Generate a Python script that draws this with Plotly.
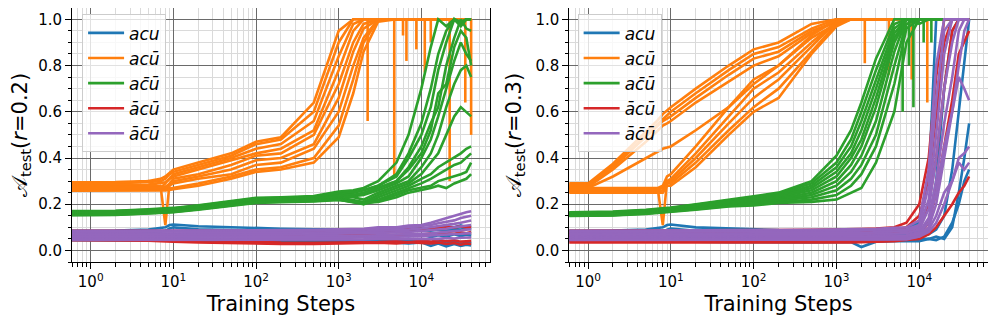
import plotly.graph_objects as go

# training steps shared by every run (log x axis)
steps = [0.5, 1, 2, 5, 7, 8, 9, 10, 20, 50, 100, 200, 500, 1000, 1500, 2000, 3000,
         5000, 7000, 10000, 13000, 16000, 20000, 25000, 30000, 35000, 40000]

tick_vals = [1, 10, 100, 1000, 10000]
tick_text = ["10<sup>0</sup>", "10<sup>1</sup>", "10<sup>2</sup>", "10<sup>3</sup>", "10<sup>4</sup>"]

labels = ["<i>acu</i>", "<i>ac\u016b</i>", "<i>ac\u0304\u016b</i>", "<i>\u0101c\u016b</i>", "<i>\u0101c\u0304\u016b</i>"]
colors = ["#1f77b4", "#ff7f0e", "#2ca02c", "#d62728", "#9467bd"]

# ---------------- r = 0.2 ----------------
r02_acu = [
    [0.085, 0.085, 0.086, 0.090, 0.095, 0.100, 0.110, 0.112, 0.105, 0.100, 0.096, 0.094, 0.092, 0.090, 0.090, 0.088, 0.090, 0.092, 0.094, 0.096, 0.100, 0.098, 0.104, 0.100, 0.108, 0.100, 0.105],
    [0.078, 0.078, 0.079, 0.080, 0.082, 0.085, 0.095, 0.100, 0.092, 0.088, 0.085, 0.084, 0.083, 0.082, 0.080, 0.082, 0.084, 0.083, 0.086, 0.088, 0.085, 0.090, 0.088, 0.092, 0.090, 0.095, 0.092],
    [0.065, 0.065, 0.065, 0.066, 0.066, 0.067, 0.068, 0.068, 0.067, 0.066, 0.065, 0.065, 0.064, 0.064, 0.062, 0.066, 0.060, 0.068, 0.062, 0.070, 0.058, 0.066, 0.060, 0.070, 0.062, 0.068, 0.064],
    [0.055, 0.055, 0.054, 0.053, 0.053, 0.052, 0.052, 0.052, 0.050, 0.048, 0.047, 0.046, 0.046, 0.045, 0.044, 0.046, 0.042, 0.045, 0.040, 0.044, 0.035, 0.040, 0.030, 0.038, 0.028, 0.035, 0.030],
    [0.045, 0.045, 0.044, 0.043, 0.042, 0.042, 0.042, 0.041, 0.040, 0.040, 0.039, 0.039, 0.038, 0.038, 0.037, 0.036, 0.038, 0.034, 0.030, 0.035, 0.020, 0.030, 0.018, 0.028, 0.020, 0.025, 0.022],
]
r02_acub = [
    [0.295, 0.295, 0.296, 0.300, 0.310, 0.320, 0.335, 0.350, 0.380, 0.420, 0.470, 0.490, 0.640, 0.950, 1.000, 1.000, 1.000, 1.000, 1.000, 1.000, 1.000, 1.000, 1.000, 1.000, 1.000, 1.000, 1.000],
    [0.290, 0.290, 0.292, 0.296, 0.300, 0.310, 0.330, 0.340, 0.370, 0.410, 0.460, 0.480, 0.600, 0.900, 1.000, 1.000, 1.000, 1.000, 1.000, 1.000, 1.000, 1.000, 1.000, 1.000, 1.000, 1.000, 1.000],
    [0.285, 0.285, 0.288, 0.300, 0.270, 0.290, 0.310, 0.330, 0.360, 0.400, 0.440, 0.460, 0.560, 0.840, 0.980, 1.000, 1.000, 1.000, 1.000, 1.000, 1.000, 1.000, 1.000, 1.000, 1.000, 1.000, 1.000],
    [0.280, 0.280, 0.282, 0.285, 0.290, 0.295, 0.310, 0.320, 0.350, 0.390, 0.420, 0.440, 0.520, 0.780, 0.950, 1.000, 1.000, 1.000, 1.000, 1.000, 1.000, 1.000, 1.000, 1.000, 1.000, 1.000, 1.000],
    [0.275, 0.275, 0.276, 0.278, 0.280, 0.110, 0.290, 0.310, 0.330, 0.370, 0.410, 0.420, 0.500, 0.720, 0.900, 0.980, 1.000, 1.000, 1.000, 1.000, 1.000, 1.000, 1.000, 1.000, 1.000, 1.000, 1.000],
    [0.270, 0.270, 0.271, 0.272, 0.273, 0.275, 0.290, 0.300, 0.320, 0.350, 0.390, 0.400, 0.460, 0.660, 0.860, 0.960, 1.000, 1.000, 1.000, 1.000, 1.000, 1.000, 1.000, 1.000, 1.000, 1.000, 1.000],
    [0.265, 0.265, 0.266, 0.267, 0.268, 0.270, 0.280, 0.290, 0.310, 0.330, 0.370, 0.380, 0.440, 0.600, 0.800, 0.920, 1.000, 1.000, 1.000, 1.000, 1.000, 1.000, 1.000, 1.000, 1.000, 1.000, 1.000],
    [0.260, 0.260, 0.261, 0.262, 0.263, 0.265, 0.268, 0.270, 0.290, 0.320, 0.350, 0.360, 0.400, 0.540, 0.740, 0.900, 1.000, 1.000, 1.000, 1.000, 1.000, 1.000, 1.000, 1.000, 1.000, 1.000, 1.000],
    [0.258, 0.258, 0.258, 0.258, 0.258, 0.260, 0.262, 0.265, 0.280, 0.310, 0.340, 0.350, 0.380, 0.490, 0.680, 0.860, 0.990, 1.000, 1.000, 1.000, 1.000, 1.000, 1.000, 1.000, 1.000, 1.000, 1.000],
]
r02_acub_dip_x = [2240, 4700, 6000, 6600, 8700, 11000, 13000, 22000, 34000, 40000]
r02_acub_dip_y = [0.56, 0.32, 0.93, 0.82, 0.87, 0.77, 0.90, 0.30, 0.64, 0.50]
r02_acbub = [
    [0.170, 0.170, 0.172, 0.178, 0.181, 0.182, 0.183, 0.184, 0.195, 0.213, 0.228, 0.230, 0.235, 0.255, 0.260, 0.270, 0.300, 0.380, 0.500, 0.700, 0.880, 1.000, 0.970, 1.000, 0.990, 1.000, 1.000],
    [0.168, 0.168, 0.170, 0.176, 0.179, 0.180, 0.181, 0.182, 0.193, 0.211, 0.225, 0.228, 0.232, 0.250, 0.250, 0.260, 0.280, 0.330, 0.420, 0.550, 0.700, 0.850, 0.950, 1.000, 0.980, 1.000, 1.000],
    [0.166, 0.166, 0.168, 0.174, 0.177, 0.178, 0.179, 0.180, 0.191, 0.209, 0.223, 0.226, 0.230, 0.240, 0.250, 0.260, 0.280, 0.320, 0.400, 0.500, 0.620, 0.780, 0.900, 1.000, 0.970, 1.000, 1.000],
    [0.165, 0.165, 0.167, 0.173, 0.176, 0.177, 0.178, 0.179, 0.190, 0.208, 0.222, 0.225, 0.228, 0.245, 0.240, 0.250, 0.270, 0.300, 0.360, 0.450, 0.550, 0.620, 0.800, 0.920, 1.000, 0.960, 0.950],
    [0.163, 0.163, 0.165, 0.171, 0.174, 0.175, 0.176, 0.177, 0.188, 0.205, 0.220, 0.222, 0.225, 0.240, 0.235, 0.240, 0.260, 0.290, 0.320, 0.400, 0.480, 0.580, 0.700, 0.820, 0.900, 0.850, 0.820],
    [0.162, 0.162, 0.164, 0.170, 0.173, 0.174, 0.175, 0.176, 0.187, 0.204, 0.218, 0.221, 0.224, 0.235, 0.240, 0.245, 0.270, 0.300, 0.350, 0.420, 0.520, 0.680, 0.720, 0.880, 0.950, 0.920, 0.800],
    [0.161, 0.161, 0.163, 0.169, 0.172, 0.173, 0.174, 0.175, 0.186, 0.203, 0.217, 0.220, 0.222, 0.235, 0.230, 0.220, 0.250, 0.280, 0.300, 0.360, 0.420, 0.500, 0.620, 0.720, 0.780, 0.800, 0.750],
    [0.159, 0.159, 0.161, 0.167, 0.170, 0.171, 0.172, 0.173, 0.184, 0.200, 0.215, 0.217, 0.220, 0.230, 0.220, 0.210, 0.240, 0.270, 0.290, 0.330, 0.380, 0.420, 0.500, 0.580, 0.620, 0.600, 0.580],
    [0.157, 0.157, 0.159, 0.165, 0.168, 0.169, 0.170, 0.171, 0.182, 0.198, 0.212, 0.215, 0.218, 0.225, 0.215, 0.200, 0.230, 0.260, 0.280, 0.310, 0.330, 0.360, 0.380, 0.400, 0.420, 0.440, 0.450],
    [0.155, 0.155, 0.157, 0.163, 0.166, 0.167, 0.168, 0.169, 0.180, 0.196, 0.210, 0.213, 0.216, 0.222, 0.210, 0.205, 0.220, 0.250, 0.270, 0.290, 0.310, 0.330, 0.350, 0.370, 0.380, 0.400, 0.420],
    [0.153, 0.153, 0.155, 0.161, 0.164, 0.165, 0.166, 0.167, 0.178, 0.194, 0.208, 0.211, 0.214, 0.220, 0.210, 0.200, 0.215, 0.240, 0.260, 0.270, 0.280, 0.300, 0.310, 0.320, 0.330, 0.340, 0.380],
    [0.152, 0.152, 0.154, 0.160, 0.163, 0.164, 0.165, 0.166, 0.176, 0.192, 0.206, 0.209, 0.212, 0.218, 0.210, 0.205, 0.210, 0.230, 0.250, 0.260, 0.270, 0.280, 0.270, 0.290, 0.300, 0.310, 0.330],
]
r02_abcub = [
    [0.085, 0.085, 0.085, 0.084, 0.084, 0.084, 0.083, 0.083, 0.082, 0.082, 0.082, 0.082, 0.082, 0.082, 0.083, 0.084, 0.085, 0.088, 0.090, 0.092, 0.095, 0.098, 0.100, 0.100, 0.104, 0.100, 0.102],
    [0.070, 0.070, 0.070, 0.069, 0.069, 0.068, 0.068, 0.068, 0.067, 0.066, 0.065, 0.064, 0.064, 0.065, 0.066, 0.068, 0.070, 0.066, 0.072, 0.068, 0.074, 0.070, 0.075, 0.072, 0.078, 0.074, 0.080],
    [0.055, 0.055, 0.054, 0.052, 0.050, 0.050, 0.049, 0.048, 0.045, 0.040, 0.036, 0.034, 0.033, 0.033, 0.034, 0.035, 0.036, 0.040, 0.035, 0.042, 0.038, 0.045, 0.040, 0.044, 0.038, 0.040, 0.042],
    [0.045, 0.045, 0.044, 0.042, 0.040, 0.040, 0.039, 0.038, 0.035, 0.032, 0.030, 0.028, 0.028, 0.030, 0.032, 0.033, 0.034, 0.030, 0.036, 0.032, 0.030, 0.034, 0.028, 0.032, 0.025, 0.030, 0.028],
]
r02_abcbub = [
    [0.085, 0.085, 0.085, 0.085, 0.085, 0.085, 0.086, 0.086, 0.087, 0.088, 0.088, 0.088, 0.089, 0.090, 0.092, 0.094, 0.100, 0.100, 0.108, 0.110, 0.120, 0.130, 0.140, 0.150, 0.158, 0.165, 0.170],
    [0.080, 0.080, 0.080, 0.080, 0.080, 0.080, 0.080, 0.080, 0.081, 0.082, 0.083, 0.084, 0.085, 0.086, 0.088, 0.090, 0.092, 0.096, 0.100, 0.105, 0.110, 0.118, 0.125, 0.130, 0.140, 0.145, 0.150],
    [0.072, 0.072, 0.072, 0.072, 0.072, 0.072, 0.072, 0.072, 0.073, 0.074, 0.075, 0.076, 0.077, 0.078, 0.080, 0.082, 0.084, 0.088, 0.090, 0.095, 0.100, 0.104, 0.110, 0.115, 0.120, 0.125, 0.130],
    [0.065, 0.065, 0.065, 0.065, 0.065, 0.065, 0.065, 0.065, 0.066, 0.067, 0.068, 0.068, 0.070, 0.072, 0.072, 0.074, 0.076, 0.078, 0.080, 0.084, 0.086, 0.090, 0.094, 0.100, 0.104, 0.108, 0.110],
    [0.058, 0.058, 0.058, 0.058, 0.058, 0.058, 0.058, 0.058, 0.058, 0.059, 0.060, 0.060, 0.061, 0.062, 0.062, 0.064, 0.066, 0.068, 0.070, 0.072, 0.074, 0.078, 0.080, 0.082, 0.086, 0.090, 0.092],
    [0.050, 0.050, 0.050, 0.050, 0.050, 0.050, 0.050, 0.050, 0.050, 0.050, 0.051, 0.052, 0.053, 0.054, 0.055, 0.056, 0.058, 0.060, 0.062, 0.062, 0.065, 0.066, 0.068, 0.070, 0.072, 0.074, 0.075],
    [0.045, 0.045, 0.045, 0.045, 0.045, 0.045, 0.045, 0.045, 0.045, 0.045, 0.045, 0.046, 0.046, 0.047, 0.048, 0.048, 0.050, 0.050, 0.052, 0.050, 0.052, 0.050, 0.054, 0.052, 0.055, 0.054, 0.056],
]

# ---------------- r = 0.3 ----------------
r03_acu = [
    [0.085, 0.085, 0.086, 0.090, 0.095, 0.100, 0.110, 0.112, 0.100, 0.095, 0.090, 0.088, 0.087, 0.086, 0.085, 0.085, 0.088, 0.090, 0.095, 0.120, 0.300, 1.000, 1.000, 1.000, 1.000, 1.000, 1.000],
    [0.072, 0.072, 0.072, 0.073, 0.074, 0.078, 0.090, 0.095, 0.085, 0.080, 0.075, 0.072, 0.070, 0.068, 0.066, 0.064, 0.062, 0.065, 0.070, 0.080, 0.120, 0.300, 0.700, 0.950, 1.000, 1.000, 1.000],
    [0.060, 0.060, 0.060, 0.060, 0.060, 0.060, 0.060, 0.060, 0.058, 0.056, 0.055, 0.054, 0.054, 0.054, 0.055, 0.055, 0.056, 0.058, 0.060, 0.060, 0.070, 0.090, 0.150, 0.350, 0.600, 0.800, 1.000],
    [0.050, 0.050, 0.050, 0.050, 0.050, 0.050, 0.050, 0.050, 0.048, 0.046, 0.045, 0.045, 0.045, 0.046, 0.046, 0.047, 0.048, 0.050, 0.050, 0.050, 0.050, 0.060, 0.050, 0.100, 0.250, 0.400, 0.550],
    [0.040, 0.040, 0.040, 0.040, 0.040, 0.040, 0.040, 0.040, 0.038, 0.036, 0.035, 0.035, 0.035, 0.036, 0.036, 0.015, 0.038, 0.040, 0.040, 0.040, 0.050, 0.045, 0.060, 0.120, 0.200, 0.300, 0.350],
]
r03_acub = [
    [0.290, 0.290, 0.375, 0.515, 0.565, 0.590, 0.605, 0.620, 0.700, 0.800, 0.870, 0.900, 0.980, 1.000, 1.000, 1.000, 1.000, 1.000, 1.000, 1.000, 1.000, 1.000, 1.000, 1.000, 1.000, 1.000, 1.000],
    [0.285, 0.285, 0.365, 0.500, 0.550, 0.570, 0.585, 0.600, 0.680, 0.780, 0.850, 0.880, 0.960, 1.000, 1.000, 1.000, 1.000, 1.000, 1.000, 1.000, 1.000, 1.000, 1.000, 1.000, 1.000, 1.000, 1.000],
    [0.280, 0.280, 0.360, 0.490, 0.540, 0.560, 0.570, 0.580, 0.660, 0.760, 0.830, 0.860, 0.950, 0.990, 1.000, 1.000, 1.000, 1.000, 1.000, 1.000, 1.000, 1.000, 1.000, 1.000, 1.000, 1.000, 1.000],
    [0.275, 0.275, 0.350, 0.470, 0.520, 0.540, 0.550, 0.560, 0.640, 0.730, 0.800, 0.840, 0.940, 0.990, 1.000, 1.000, 1.000, 1.000, 1.000, 1.000, 1.000, 1.000, 1.000, 1.000, 1.000, 1.000, 1.000],
    [0.270, 0.270, 0.320, 0.400, 0.430, 0.440, 0.445, 0.450, 0.520, 0.620, 0.720, 0.800, 0.920, 0.980, 1.000, 1.000, 1.000, 1.000, 1.000, 1.000, 1.000, 1.000, 1.000, 1.000, 1.000, 1.000, 1.000],
    [0.270, 0.270, 0.270, 0.270, 0.270, 0.280, 0.320, 0.330, 0.450, 0.620, 0.740, 0.800, 0.930, 1.000, 1.000, 1.000, 1.000, 1.000, 1.000, 1.000, 1.000, 1.000, 1.000, 1.000, 1.000, 1.000, 1.000],
    [0.265, 0.265, 0.265, 0.265, 0.265, 0.270, 0.300, 0.310, 0.420, 0.580, 0.700, 0.770, 0.900, 0.990, 1.000, 1.000, 1.000, 1.000, 1.000, 1.000, 1.000, 1.000, 1.000, 1.000, 1.000, 1.000, 1.000],
    [0.260, 0.260, 0.260, 0.260, 0.260, 0.110, 0.300, 0.300, 0.400, 0.550, 0.660, 0.740, 0.880, 0.990, 1.000, 1.000, 1.000, 1.000, 1.000, 1.000, 1.000, 1.000, 1.000, 1.000, 1.000, 1.000, 1.000],
    [0.255, 0.255, 0.255, 0.255, 0.255, 0.260, 0.290, 0.290, 0.380, 0.520, 0.620, 0.700, 0.860, 0.980, 1.000, 1.000, 1.000, 1.000, 1.000, 1.000, 1.000, 1.000, 1.000, 1.000, 1.000, 1.000, 1.000],
    [0.250, 0.250, 0.250, 0.250, 0.250, 0.250, 0.280, 0.280, 0.360, 0.500, 0.600, 0.660, 0.850, 0.970, 1.000, 1.000, 1.000, 1.000, 1.000, 1.000, 1.000, 1.000, 1.000, 1.000, 1.000, 1.000, 1.000],
]
r03_acub_dip_x = [2200, 4300, 8100, 12500]
r03_acub_dip_y = [0.81, 0.76, 0.74, 0.64]
r03_acbub = [
    [0.165, 0.165, 0.168, 0.176, 0.180, 0.182, 0.184, 0.186, 0.200, 0.220, 0.235, 0.250, 0.300, 0.410, 0.520, 0.640, 0.830, 1.000, 1.000, 0.980, 1.000, 1.000, 1.000, 1.000, 1.000, 1.000, 1.000],
    [0.163, 0.163, 0.166, 0.174, 0.178, 0.180, 0.182, 0.184, 0.197, 0.217, 0.232, 0.245, 0.290, 0.380, 0.480, 0.600, 0.780, 0.980, 1.000, 1.000, 1.000, 1.000, 1.000, 1.000, 1.000, 1.000, 1.000],
    [0.161, 0.161, 0.164, 0.172, 0.176, 0.178, 0.180, 0.182, 0.194, 0.214, 0.228, 0.240, 0.280, 0.360, 0.450, 0.560, 0.740, 0.960, 1.000, 1.000, 1.000, 1.000, 1.000, 1.000, 1.000, 1.000, 1.000],
    [0.159, 0.159, 0.162, 0.170, 0.174, 0.176, 0.178, 0.180, 0.191, 0.210, 0.224, 0.235, 0.270, 0.340, 0.420, 0.520, 0.700, 0.940, 1.000, 1.000, 1.000, 1.000, 1.000, 1.000, 1.000, 1.000, 1.000],
    [0.157, 0.157, 0.160, 0.168, 0.172, 0.174, 0.176, 0.178, 0.188, 0.206, 0.220, 0.230, 0.260, 0.320, 0.400, 0.480, 0.660, 0.920, 1.000, 1.000, 1.000, 1.000, 1.000, 1.000, 1.000, 1.000, 1.000],
    [0.155, 0.155, 0.158, 0.166, 0.170, 0.172, 0.174, 0.176, 0.185, 0.202, 0.215, 0.225, 0.250, 0.300, 0.370, 0.450, 0.620, 0.900, 1.000, 1.000, 1.000, 1.000, 1.000, 1.000, 1.000, 1.000, 1.000],
    [0.153, 0.153, 0.156, 0.164, 0.168, 0.170, 0.172, 0.174, 0.182, 0.198, 0.210, 0.220, 0.240, 0.280, 0.340, 0.410, 0.560, 0.860, 1.000, 1.000, 1.000, 1.000, 1.000, 1.000, 1.000, 1.000, 1.000],
    [0.151, 0.151, 0.154, 0.162, 0.166, 0.168, 0.170, 0.172, 0.180, 0.195, 0.205, 0.215, 0.230, 0.260, 0.310, 0.370, 0.500, 0.800, 0.980, 1.000, 1.000, 1.000, 1.000, 1.000, 1.000, 1.000, 1.000],
    [0.150, 0.150, 0.152, 0.160, 0.164, 0.166, 0.168, 0.170, 0.178, 0.192, 0.200, 0.210, 0.220, 0.240, 0.280, 0.330, 0.450, 0.720, 0.960, 1.000, 1.000, 1.000, 1.000, 1.000, 1.000, 1.000, 1.000],
    [0.149, 0.149, 0.151, 0.158, 0.162, 0.164, 0.166, 0.168, 0.176, 0.190, 0.195, 0.205, 0.210, 0.220, 0.250, 0.270, 0.380, 0.600, 0.900, 1.000, 1.000, 1.000, 1.000, 1.000, 1.000, 1.000, 1.000],
]
r03_acbub_dip_x = [6300, 7500, 8500, 11300, 14000]
r03_acbub_dip_y = [0.60, 0.80, 0.62, 0.90, 0.90]
r03_abcub = [
    [0.085, 0.085, 0.085, 0.085, 0.085, 0.085, 0.085, 0.085, 0.086, 0.087, 0.088, 0.088, 0.089, 0.090, 0.092, 0.093, 0.095, 0.100, 0.120, 0.200, 0.400, 0.750, 1.000, 1.000, 1.000, 1.000, 1.000],
    [0.075, 0.075, 0.075, 0.075, 0.075, 0.075, 0.075, 0.075, 0.076, 0.077, 0.078, 0.078, 0.079, 0.080, 0.082, 0.083, 0.085, 0.090, 0.100, 0.150, 0.300, 0.600, 0.900, 1.000, 1.000, 1.000, 1.000],
    [0.060, 0.060, 0.060, 0.060, 0.060, 0.060, 0.060, 0.060, 0.061, 0.062, 0.062, 0.063, 0.064, 0.065, 0.066, 0.067, 0.070, 0.075, 0.080, 0.100, 0.200, 0.400, 0.700, 0.950, 1.000, 1.000, 1.000],
    [0.048, 0.048, 0.048, 0.048, 0.048, 0.048, 0.048, 0.048, 0.046, 0.044, 0.042, 0.042, 0.043, 0.044, 0.045, 0.046, 0.050, 0.052, 0.055, 0.070, 0.120, 0.250, 0.450, 0.650, 0.850, 0.900, 0.950],
    [0.035, 0.035, 0.035, 0.035, 0.035, 0.035, 0.035, 0.035, 0.034, 0.033, 0.032, 0.032, 0.033, 0.034, 0.035, 0.036, 0.038, 0.040, 0.045, 0.050, 0.070, 0.100, 0.150, 0.200, 0.250, 0.280, 0.320],
]
r03_abcbub = [
    [0.085, 0.085, 0.085, 0.085, 0.085, 0.085, 0.085, 0.085, 0.086, 0.087, 0.088, 0.088, 0.089, 0.090, 0.090, 0.092, 0.094, 0.098, 0.100, 0.130, 0.350, 0.800, 1.000, 1.000, 1.000, 1.000, 1.000],
    [0.080, 0.080, 0.080, 0.080, 0.080, 0.080, 0.080, 0.080, 0.080, 0.081, 0.081, 0.082, 0.082, 0.083, 0.084, 0.085, 0.086, 0.088, 0.092, 0.110, 0.280, 0.650, 0.950, 1.000, 1.000, 1.000, 1.000],
    [0.072, 0.072, 0.072, 0.072, 0.072, 0.072, 0.072, 0.072, 0.072, 0.072, 0.073, 0.073, 0.074, 0.075, 0.075, 0.076, 0.078, 0.080, 0.084, 0.100, 0.220, 0.500, 0.850, 1.000, 1.000, 1.000, 1.000],
    [0.065, 0.065, 0.065, 0.065, 0.065, 0.065, 0.065, 0.065, 0.065, 0.065, 0.066, 0.066, 0.066, 0.067, 0.068, 0.068, 0.070, 0.072, 0.075, 0.090, 0.180, 0.400, 0.700, 0.900, 1.000, 1.000, 1.000],
    [0.058, 0.058, 0.058, 0.058, 0.058, 0.058, 0.058, 0.058, 0.058, 0.058, 0.058, 0.058, 0.059, 0.060, 0.060, 0.060, 0.062, 0.064, 0.066, 0.080, 0.140, 0.300, 0.550, 0.750, 0.950, 1.000, 1.000],
    [0.054, 0.054, 0.054, 0.054, 0.054, 0.054, 0.054, 0.054, 0.054, 0.054, 0.054, 0.054, 0.055, 0.056, 0.056, 0.057, 0.058, 0.060, 0.062, 0.075, 0.120, 0.250, 0.450, 0.600, 0.750, 0.700, 0.650],
    [0.050, 0.050, 0.050, 0.050, 0.050, 0.050, 0.050, 0.050, 0.050, 0.050, 0.050, 0.050, 0.050, 0.050, 0.050, 0.050, 0.052, 0.054, 0.056, 0.070, 0.100, 0.200, 0.400, 0.600, 0.800, 0.950, 1.000],
    [0.047, 0.047, 0.047, 0.047, 0.047, 0.047, 0.047, 0.047, 0.047, 0.047, 0.047, 0.047, 0.047, 0.047, 0.047, 0.047, 0.048, 0.050, 0.052, 0.060, 0.090, 0.150, 0.250, 0.300, 0.380, 0.350, 0.380],
    [0.045, 0.045, 0.045, 0.045, 0.045, 0.045, 0.045, 0.045, 0.045, 0.045, 0.045, 0.045, 0.045, 0.045, 0.045, 0.045, 0.046, 0.047, 0.048, 0.060, 0.080, 0.120, 0.200, 0.300, 0.400, 0.420, 0.450],
]

panels = [
    ("x", "y", "legend", [r02_acu, r02_acub, r02_acbub, r02_abcub, r02_abcbub],
     {1: (r02_acub_dip_x, r02_acub_dip_y)}),
    ("x2", "y2", "legend2", [r03_acu, r03_acub, r03_acbub, r03_abcub, r03_abcbub],
     {1: (r03_acub_dip_x, r03_acub_dip_y), 2: (r03_acbub_dip_x, r03_acbub_dip_y)}),
]

for _, _, _, groups, _ in panels:
    for g in groups:
        for run in g:
            assert len(run) == len(steps)

fig = go.Figure()
LW = 2.6
for xa, ya, leg, groups, dips in panels:
    for gi, runs in enumerate(groups):
        for ri, run in enumerate(runs):
            fig.add_trace(go.Scatter(
                x=steps, y=run, mode="lines", xaxis=xa, yaxis=ya,
                line=dict(color=colors[gi], width=LW),
                name=labels[gi], legendgroup=labels[gi] + leg, legend=leg,
                showlegend=(ri == 0), hoverinfo="skip"))
        if gi in dips:
            dx, dy = dips[gi]
            xs, ys = [], []
            for a, b in zip(dx, dy):
                xs += [a, a, None]
                ys += [1.0, b, None]
            fig.add_trace(go.Scatter(
                x=xs, y=ys, mode="lines", xaxis=xa, yaxis=ya,
                line=dict(color=colors[gi], width=LW), legend=leg,
                showlegend=False, hoverinfo="skip"))

font = "DejaVu Sans"
xcommon = dict(
    type="log", range=[-0.226, 4.83], tickmode="array", tickvals=tick_vals, ticktext=tick_text,
    ticks="outside", ticklen=6, tickcolor="black", tickfont=dict(size=15, color="black"),
    showline=True, mirror=True, linecolor="black", linewidth=1, automargin=False,
    showgrid=True, gridcolor="#6a6a6a", gridwidth=1, zeroline=False,
    minor=dict(dtick="D1", ticks="outside", ticklen=3.5, tickcolor="black",
               showgrid=True, gridcolor="#dadada", gridwidth=1),
    title=dict(text="Training Steps", font=dict(size=21, color="black"), standoff=6),
)
ycommon = dict(
    range=[-0.05, 1.049], tickmode="linear", tick0=0, dtick=0.2, tickformat=".1f",
    ticks="outside", ticklen=6, tickcolor="black", tickfont=dict(size=15, color="black"),
    showline=True, mirror=True, linecolor="black", linewidth=1, automargin=False,
    showgrid=True, gridcolor="#6a6a6a", gridwidth=1, zeroline=False,
    minor=dict(dtick=0.05, ticks="outside", ticklen=3.5, tickcolor="black",
               showgrid=True, gridcolor="#dadada", gridwidth=1),
)
legcommon = dict(
    yanchor="top", xanchor="left", y=0.975, tracegroupgap=0, itemwidth=36,
    bgcolor="rgba(255,255,255,0.8)", bordercolor="#cccccc", borderwidth=1,
    font=dict(size=17, color="black"),
)

# the page body adds an 8 px offset, so the figure is 8 px smaller than the window
fig.update_layout(
    width=988, height=315, margin=dict(l=64, r=8, t=0, b=61),
    paper_bgcolor="white", plot_bgcolor="white",
    font=dict(family=font, color="black"),
    xaxis=dict(domain=[0, 0.4563], anchor="y", **xcommon),
    xaxis2=dict(domain=[0.5429, 1], anchor="y2", **xcommon),
    yaxis=dict(anchor="x", title=dict(text="\U0001D49C<sub>test</sub>(<i>r</i>=0.2)",
                                      font=dict(size=21, color="black"), standoff=8), **ycommon),
    yaxis2=dict(anchor="x2", title=dict(text="\U0001D49C<sub>test</sub>(<i>r</i>=0.3)",
                                        font=dict(size=21, color="black"), standoff=8), **ycommon),
    legend=dict(x=0.011, **legcommon),
    legend2=dict(x=0.552, **legcommon),
)

fig.write_html("out.html")
